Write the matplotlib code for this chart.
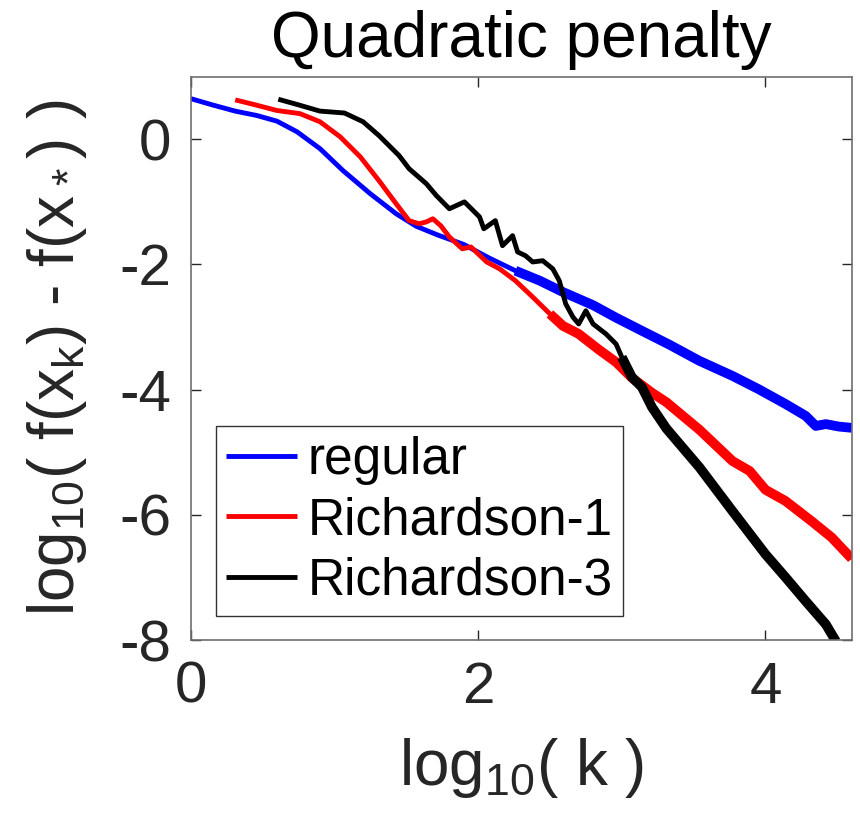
import numpy as np
import matplotlib
matplotlib.use('Agg')
import matplotlib.pyplot as plt

plt.rcParams['font.family'] = ['Liberation Sans', 'DejaVu Sans']
plt.rcParams['mathtext.default'] = 'regular'
plt.rcParams['axes.unicode_minus'] = False

# log10(k) vs log10(f(x_k) - f(x_*))
x_regular = [0, 0.15, 0.31, 0.46, 0.6, 0.74, 0.9, 1.06, 1.25, 1.43, 1.57, 1.72, 1.9,
             2.08, 2.26, 2.43, 2.59, 2.8, 2.96, 3.14, 3.33, 3.54, 3.77, 3.95, 4.14,
             4.28, 4.35, 4.42, 4.51, 4.6]
y_regular = [0.65, 0.55, 0.45, 0.38, 0.29, 0.12, -0.15, -0.5, -0.87, -1.19, -1.39, -1.53, -1.68,
             -1.9, -2.1, -2.26, -2.44, -2.65, -2.85, -3.06, -3.28, -3.54, -3.78, -3.99, -4.23,
             -4.42, -4.58, -4.55, -4.59, -4.61]

x_rich1 = [0.31, 0.45, 0.6, 0.76, 0.9, 1.04, 1.18, 1.31, 1.43, 1.52, 1.59, 1.64, 1.685, 1.74,
           1.8, 1.89, 1.95, 2.06, 2.15, 2.26, 2.38, 2.5, 2.59, 2.7, 2.84, 2.96, 3.07, 3.21,
           3.31, 3.54, 3.77, 3.89, 4.0, 4.14, 4.32, 4.46, 4.6]
y_rich1 = [0.63, 0.55, 0.46, 0.41, 0.28, 0.04, -0.28, -0.66, -1.03, -1.3, -1.35, -1.32, -1.27, -1.38,
           -1.56, -1.75, -1.72, -1.96, -2.07, -2.26, -2.52, -2.79, -2.98, -3.11, -3.36, -3.56, -3.81, -4.05,
           -4.2, -4.64, -5.14, -5.3, -5.6, -5.78, -6.1, -6.36, -6.7]

x_rich3 = [0.61, 0.75, 0.9, 1.07, 1.2, 1.31, 1.45, 1.52, 1.64, 1.71, 1.8, 1.905, 2.01, 2.04,
           2.12, 2.17, 2.24, 2.275, 2.33, 2.38, 2.45, 2.52, 2.565, 2.61, 2.66, 2.7, 2.75, 2.8,
           2.89, 2.96, 3.0, 3.07, 3.14, 3.21, 3.31, 3.54, 3.77, 4.0, 4.14, 4.28, 4.42, 4.49]
y_rich3 = [0.64, 0.55, 0.45, 0.42, 0.28, 0.06, -0.26, -0.47, -0.71, -0.9, -1.11, -1.0, -1.24, -1.43,
           -1.3, -1.7, -1.54, -1.8, -1.86, -1.96, -1.94, -2.07, -2.26, -2.63, -2.84, -2.95, -2.74, -2.95,
           -3.11, -3.27, -3.48, -3.8, -3.96, -4.28, -4.62, -5.24, -5.94, -6.63, -7.0, -7.38, -7.75, -8.02]

series = [
    (x_regular, y_regular, 'blue', 'regular', 2.1),
    (x_rich1, y_rich1, 'red', 'Richardson-1', 2.5),
    (x_rich3, y_rich3, 'black', 'Richardson-3', 3.0),
]

fig = plt.figure(figsize=(8.6, 8.22), dpi=100)
ax = fig.add_axes([0.2217, 0.2214, 0.769, 0.6853])

for xs, ys, col, lab, thick_from in series:
    xs = np.array(xs)
    ys = np.array(ys)
    ax.plot(xs, ys, color=col, lw=3.5, label=lab, solid_capstyle='butt')
    # the oscillating tail looks like a thicker band
    m = xs >= thick_from
    ax.plot(xs[m], ys[m], color=col, lw=7, solid_capstyle='butt')

ax.set_xlim(0, 4.602)
ax.set_ylim(-8, 1)
ax.set_xticks([0, 2, 4])
ax.set_yticks([-8, -6, -4, -2, 0])
ax.tick_params(direction='in', length=7, width=1, colors='#262626', labelsize=42,
               top=True, right=True)
ax.tick_params(axis='x', pad=15)
ax.tick_params(axis='y', pad=14)
for sp in ax.spines.values():
    sp.set_color('#6e6e6e')
    sp.set_linewidth(1.2)

ax.set_title('Quadratic penalty', fontsize=46, pad=14)
ax.set_xlabel('log$_{10}$( k )', fontsize=46, color='#262626', labelpad=15)
ax.set_ylabel('log$_{10}$( f(x$_k$) - f(x$_*$) )', fontsize=46, color='#262626', labelpad=22)

leg = ax.legend(loc='lower left', bbox_to_anchor=(0.038, 0.043), borderaxespad=0,
                fontsize=37, handlelength=1.38, handletextpad=0.2, labelspacing=0.22,
                borderpad=0.2, fancybox=False, framealpha=1)
leg.get_frame().set_edgecolor('#333333')
leg.get_frame().set_linewidth(1.0)
for h in leg.get_lines():
    h.set_linewidth(3.5)

fig.savefig('out.png', dpi=100)
